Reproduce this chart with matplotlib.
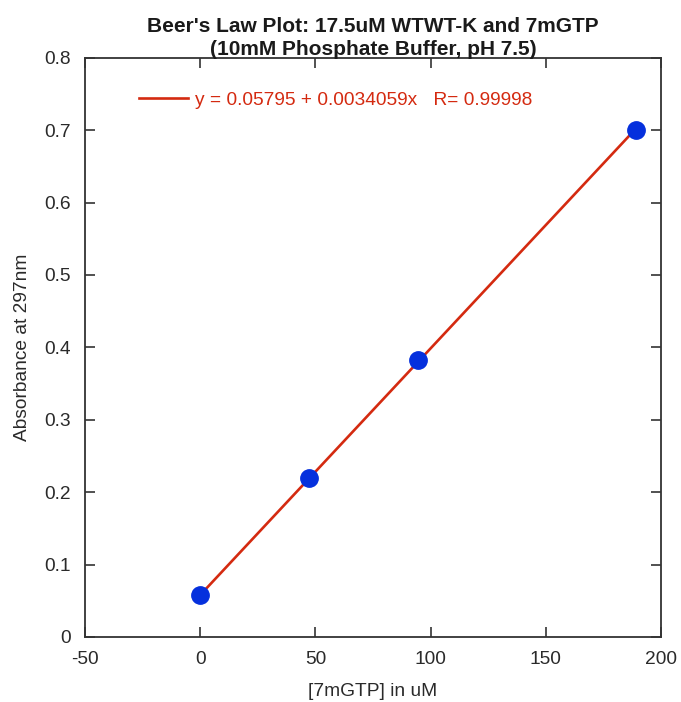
import matplotlib
matplotlib.use("Agg")
import matplotlib.pyplot as plt
import numpy as np

plt.rcParams['font.family'] = ['Liberation Sans', 'DejaVu Sans']

# Concentration of 7mGTP (uM) and measured absorbance at 297 nm
conc_um = [0.0, 47.25, 94.5, 189.0]
absorbance = [0.058, 0.219, 0.382, 0.700]

# Linear fit parameters
intercept = 0.05795
slope = 0.0034059
r_value = 0.99998

x_ticks = [-50, 0, 50, 100, 150, 200]
y_ticks = [0, 0.1, 0.2, 0.3, 0.4, 0.5, 0.6, 0.7, 0.8]

fig = plt.figure(figsize=(6.81, 7.02), dpi=100)
ax = fig.add_axes([0.1248, 0.0926, 0.9706 - 0.1248, 0.9178 - 0.0926])

line_color = '#d42a10'
point_color = '#0530dd'
text_color = '#2a2a2a'
fs = 13.8

fit_x = np.array([min(conc_um), max(conc_um)])
fit_y = intercept + slope * fit_x
ax.plot(fit_x, fit_y, color=line_color, lw=1.9, zorder=2,
        label=f"y = {intercept} + {slope}x   R= {r_value}")
ax.plot(conc_um, absorbance, 'o', color=point_color, ms=12.5, mec=point_color,
        zorder=3)

ax.set_xlim(-50, 200)
ax.set_ylim(0, 0.8)
ax.set_xticks(x_ticks)
ax.set_yticks(y_ticks)
ax.set_xticklabels([str(t) for t in x_ticks])
ax.set_yticklabels(['0'] + [f"{t:.1f}" for t in y_ticks[1:]])

ax.tick_params(direction='in', length=7, width=1.2, color='#333333',
               top=True, right=True, labelsize=fs, labelcolor=text_color, pad=10)
for sp in ax.spines.values():
    sp.set_color('#333333')
    sp.set_linewidth(1.3)

ax.set_xlabel('[7mGTP] in uM', fontsize=fs, color=text_color, labelpad=11)
ax.set_ylabel('Absorbance at 297nm', fontsize=fs, color=text_color, labelpad=10)
ax.set_title("Beer's Law Plot: 17.5uM WTWT-K and 7mGTP\n(10mM Phosphate Buffer, pH 7.5)",
             fontsize=15, fontweight='bold', color='#1a1a1a', pad=2, linespacing=1.28)

leg = ax.legend(loc='upper left', bbox_to_anchor=(0.063, 0.971), frameon=False,
                fontsize=fs, handlelength=2.6, handletextpad=0.35,
                labelcolor=line_color)

fig.savefig('out.png', dpi=100)
